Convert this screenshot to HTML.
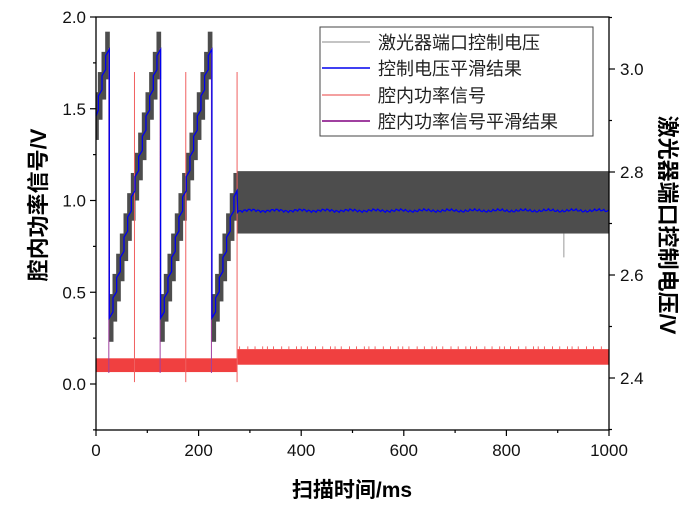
<!DOCTYPE html>
<html><head><meta charset="utf-8"><style>
body{margin:0;background:#fff}
svg{display:block}
text{font-family:"Liberation Sans","Noto Sans CJK SC",sans-serif}
</style></head><body>
<svg id="s" width="700" height="522" xmlns="http://www.w3.org/2000/svg">
<g id="d"></g>
<rect x="96" y="17" width="513" height="413" fill="none" stroke="#000" stroke-width="1.3"/>
<g id="ax" stroke="#000" stroke-width="1.2"></g>
<g id="tx" font-size="17" fill="#111"></g>
<text x="352" y="497" font-size="21" text-anchor="middle" font-weight="bold">扫描时间/ms</text>
<text transform="translate(46,205) rotate(-90)" font-size="22" text-anchor="middle" font-weight="bold">腔内功率信号/V</text>
<text transform="translate(660,225) rotate(90)" font-size="22" text-anchor="middle" font-weight="bold">激光器端口控制电压/V</text>
<rect x="320" y="27" width="273" height="109" fill="#fff" stroke="#444" stroke-width="1"/>
<line x1="322" y1="42" x2="370" y2="42" stroke="#888" stroke-width="1"/>
<line x1="322" y1="68" x2="370" y2="68" stroke="#0000ee" stroke-width="1.5"/>
<line x1="322" y1="95" x2="370" y2="95" stroke="#f08080" stroke-width="1.5"/>
<line x1="322" y1="121" x2="370" y2="121" stroke="#800080" stroke-width="1.5"/>
<g font-size="18" fill="#222" style="font-family:'Liberation Serif','Noto Serif CJK SC',serif">
<text x="378" y="49">激光器端口控制电压</text>
<text x="378" y="75">控制电压平滑结果</text>
<text x="378" y="102">腔内功率信号</text>
<text x="378" y="128">腔内功率信号平滑结果</text>
</g>
</svg>
<script>
const X=t=>96+t*0.513, Y=v=>384-v*183.5, R=v=>378-(v-2.4)*515;
const d=document.getElementById('d');let h='';
h+=`<rect x="${X(0)}" y="${Y(0.14)}" width="${X(275)-X(0)}" height="${Y(0.065)-Y(0.14)}" fill="#f04040"/>`;
h+=`<rect x="${X(276)}" y="${Y(0.19)}" width="${X(1000)-X(276)}" height="${Y(0.105)-Y(0.19)}" fill="#f04040"/>`;
for(let t=280;t<990;t+=7+((t*37)%11)){h+=`<line x1="${X(t)}" x2="${X(t)}" y1="${Y(0.19)}" y2="${Y(0.205)}" stroke="#f04040" stroke-width="0.8"/>`;}
h+=`<rect x="${X(275)}" y="${Y(1.16)}" width="${X(1000)-X(275)}" height="${Y(0.82)-Y(1.16)}" fill="#4d4d4d"/>`;
let blue='M';const step=0.11,sw=100/14;
for(let t0=-75;t0<275;t0+=100){
  for(let k=0;k<14;k++){
    let a=Math.max(0,t0+k*sw+1),b=Math.min(275,t0+(k+1)*sw+1);if(b<=a)continue;
    let l=0.36+k*step;
    h+=`<rect x="${X(a)-0.5}" y="${Y(l+0.13)}" width="${X(b)-X(a)+1}" height="${Y(l-0.13)-Y(l+0.13)}" fill="#4d4d4d"/>`;
    blue+=`${X(a)},${Y(l)} L${X(b)},${Y(l+step*0.3)} L`;
  }
}
blue+=`${X(276)},${Y(0.95)}`;
let p=[];for(let t=276;t<=1000;t+=3){p.push(X(t)+','+Y(0.945+0.006*Math.sin(t*0.7)+0.004*Math.sin(t*0.13)))}
blue+=' L'+p.join(' L');
for(const t of [25,125,225]){h+=`<line x1="${X(t)}" x2="${X(t)}" y1="${Y(1.83)}" y2="${Y(0.06)}" stroke="#a040a0" stroke-width="1"/>`;}
for(const t of [75,175,275]){h+=`<line x1="${X(t)}" x2="${X(t)}" y1="${Y(1.7)}" y2="${Y(0.01)}" stroke="#f06060" stroke-width="1"/>`;}
h+=`<path d="${blue}" fill="none" stroke="#0000ee" stroke-width="1.3"/>`;
h+=`<line x1="${X(912)}" x2="${X(912)}" y1="${Y(0.82)}" y2="${Y(0.69)}" stroke="#999"/>`;
d.innerHTML=h;
let a='',tx='';
for(let v=-0.25;v<=2.001;v+=0.25){const y=Y(v),maj=Math.abs(v*2-Math.round(v*2))<1e-6;a+=`<line x1="96" x2="${maj?90:93}" y1="${y}" y2="${y}"/>`;if(maj)tx+=`<text x="86" y="${y+6}" text-anchor="end">${v.toFixed(1)}</text>`;}
for(let t=0;t<=1000;t+=100){const x=X(t),maj=t%200==0;a+=`<line x1="${x}" x2="${x}" y1="430" y2="${maj?436:433}"/>`;if(maj)tx+=`<text x="${x}" y="456" text-anchor="middle">${t}</text>`;}
for(let v=2.3;v<=3.11;v+=0.1){const y=R(v);if(y<17||y>430)continue;const maj=Math.round(v*10)%2==0;a+=`<line x1="609" x2="${maj?615:612}" y1="${y}" y2="${y}"/>`;if(maj)tx+=`<text x="620" y="${y+6}">${v.toFixed(1)}</text>`;}
document.getElementById('ax').innerHTML=a;document.getElementById('tx').innerHTML=tx;
</script>
</body></html>
